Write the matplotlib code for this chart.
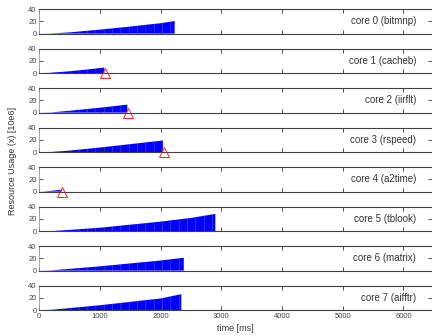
import matplotlib
matplotlib.use("Agg")
import matplotlib.pyplot as plt

plt.rcParams["font.family"] = ["Liberation Sans", "DejaVu Sans"]
plt.rcParams["hatch.linewidth"] = 0.4

# core labels
labels = ["core 0 (bitmnp)", "core 1 (cacheb)", "core 2 (iirflt)", "core 3 (rspeed)",
          "core 4 (a2time)", "core 5 (tblook)", "core 6 (matrix)", "core 7 (aifftr)"]

# usage curves: time [ms], usage [10e6]
t0 = [0, 200, 500, 1000, 1500, 2000, 2230]
u0 = [0, 0.3, 2.0, 6.5, 11.5, 17.0, 20.5]
t1 = [0, 150, 500, 800, 1070]
u1 = [0, 0.3, 3.0, 6.0, 9.0]
t2 = [0, 200, 500, 1000, 1450]
u2 = [0, 0.4, 3.0, 8.0, 13.0]
t3 = [0, 200, 500, 1000, 1500, 2040]
u3 = [0, 0.3, 2.5, 7.5, 13.0, 19.0]
t4 = [0, 100, 250, 370]
u4 = [0, 0.4, 1.8, 3.2]
t5 = [0, 250, 1000, 2000, 2500, 2900]
u5 = [0, 0.3, 5.5, 15.5, 21.5, 28.0]
t6 = [0, 200, 1000, 2000, 2380]
u6 = [0, 0.4, 7.0, 16.5, 21.0]
t7 = [0, 200, 1000, 2000, 2340]
u7 = [0, 0.5, 8.0, 19.0, 26.0]
times = [t0, t1, t2, t3, t4, t5, t6, t7]
usage = [u0, u1, u2, u3, u4, u5, u6, u7]

# red triangle markers (end of task)
marks = {1: 1080, 2: 1460, 3: 2060, 4: 380}

fig, axes = plt.subplots(8, 1, figsize=(4.32, 3.36), dpi=100, sharex=True)
fig.subplots_adjust(left=0.091, right=1.0, top=0.973, bottom=0.077, hspace=0.61)

for i, ax in enumerate(axes):
    ax.fill_between(times[i], usage[i], 0, color="#0000ff", linewidth=0,
                    hatch="||", edgecolor="#5555ff")
    if i in marks:
        ax.plot([marks[i]], [0], marker="^", markersize=6.5, mfc="none", mec="#ff2020",
                mew=0.7, linestyle="none", clip_on=False, zorder=5)
    ax.set_xlim(0, 6470)
    ax.set_ylim(0, 40)
    ax.set_yticks([0, 20, 40])
    ax.set_xticks(range(0, 7000, 1000))
    ax.tick_params(axis="both", direction="in", length=3, width=0.6, color="#333333",
                   labelsize=5.5, labelcolor="#444444", pad=2,
                   top=True, right=True)
    for s in ["top", "bottom"]:
        ax.spines[s].set_color("#404040")
        ax.spines[s].set_linewidth(0.8)
    ax.spines["left"].set_color("#999999")
    ax.spines["left"].set_linewidth(0.6)
    ax.spines["right"].set_visible(False)
    ax.text(6210, 20, labels[i], ha="right", va="center", fontsize=7, color="#333333")
    if i < 7:
        ax.tick_params(labelbottom=False)

axes[-1].set_xlabel("time [ms]", fontsize=6.5, color="#333333", labelpad=3)
fig.text(0.03, 0.52, "Resource Usage (x) [10e6]", rotation=90, ha="center", va="center",
         fontsize=6.5, color="#333333")

fig.savefig("out.png", dpi=100)
